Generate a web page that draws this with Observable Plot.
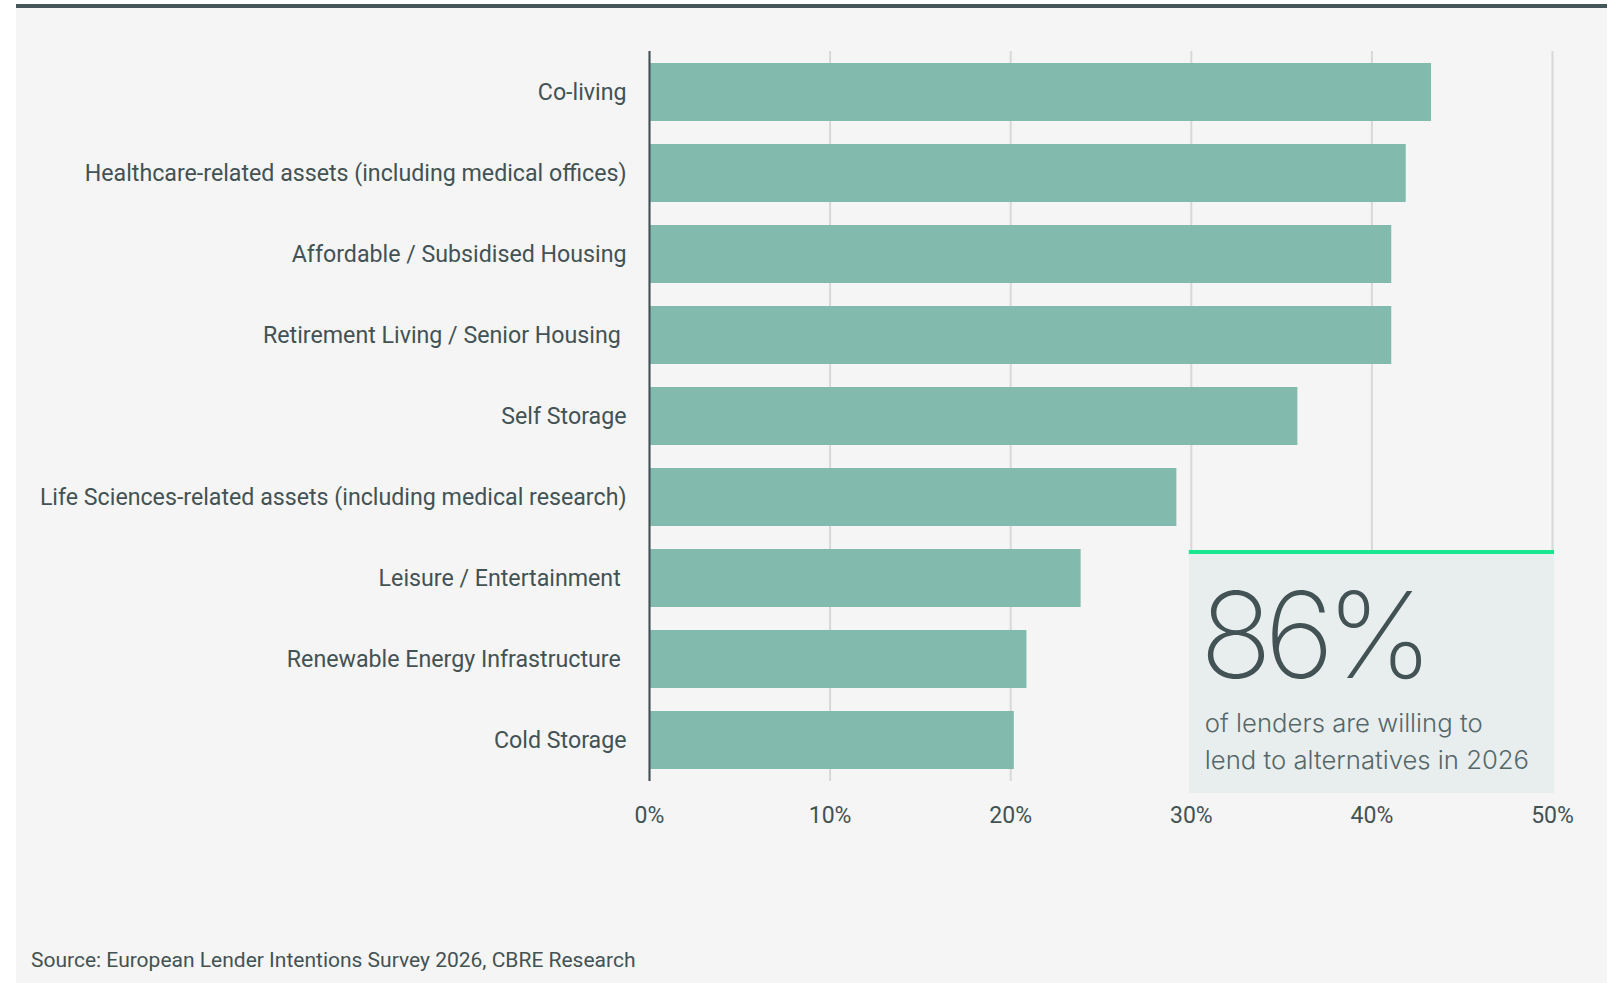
<!DOCTYPE html>
<html>
<head>
<meta charset="utf-8">
<script src="https://cdn.jsdelivr.net/npm/d3@7"></script>
<script src="https://cdn.jsdelivr.net/npm/@observablehq/plot@0.6"></script>
<style>
  html, body { margin: 0; padding: 0; background: #ffffff; }
  #page { position: relative; width: 1611px; height: 983px; overflow: hidden; background: #ffffff; }
  #panel { position: absolute; left: 16px; top: 4px; width: 1591px; height: 979px; background: #f5f5f5; border-top: 4px solid #44565a; box-sizing: border-box; }
  #chart { position: absolute; left: 0; top: 0; }
  #chart svg text { white-space: pre; }
  #source { position: absolute; left: 31px; top: 950px; font-family: Roboto, sans-serif; font-size: 21px; line-height: 21px; color: #435254; white-space: nowrap; }
</style>
</head>
<body>
<div id="page">
  <div id="panel"></div>
  <div id="chart"></div>
  <div id="source">Source: European Lender Intentions Survey 2026, CBRE Research</div>
</div>
<script>
const categories = [
  "Co-living",
  "Healthcare-related assets (including medical offices)",
  "Affordable / Subsidised Housing",
  "Retirement Living / Senior Housing ",
  "Self Storage",
  "Life Sciences-related assets (including medical research)",
  "Leisure / Entertainment ",
  "Renewable Energy Infrastructure ",
  "Cold Storage"
];
const shares = [43.3, 41.9, 41.1, 41.1, 35.9, 29.2, 23.9, 20.9, 20.2];
const xTicks = [0, 10, 20, 30, 40, 50];
const calloutValue = "86%";
const calloutLines = ["of lenders are willing to", "lend to alternatives in 2026"];

const rows = categories.map((c, i) => ({category: c, share: shares[i]}));

const chart = Plot.plot({
  width: 1611,
  height: 850,
  marginLeft: 649,
  marginRight: 59,
  marginTop: 51,
  marginBottom: 69,
  style: {fontFamily: "Roboto, sans-serif", fontSize: "23px", color: "#435254", background: "transparent", overflow: "visible"},
  x: {domain: [0, 50], axis: null},
  y: {domain: categories, paddingInner: 0.29, paddingOuter: 0.145, axis: null},
  marks: [
    Plot.gridX({ticks: xTicks, stroke: "#d8d8d8", strokeOpacity: 1, strokeWidth: 2}),
    Plot.barX(rows, {x: "share", y: "category", fill: "#82bbad"}),
    Plot.ruleX([0], {stroke: "#3f4f53", strokeWidth: 2}),
    Plot.axisX({ticks: xTicks, tickSize: 0, tickPadding: 25, tickFormat: d => d + "%", fontSize: 23, label: null, fill: "#435254"}),
    Plot.axisY({tickSize: 0, tickPadding: 23, fontSize: 23.2, label: null, fill: "#435254"})
  ]
});

document.getElementById("chart").appendChild(chart);

// Callout box drawn into the same SVG, positioned from the x scale
const xs = chart.scale("x");
const bx0 = xs.apply(30) - 2;
const bx1 = xs.apply(50) + 2;
const by0 = 550, by1 = 793;
const g = d3.select(chart).append("g").attr("text-anchor", "start");
g.append("rect").attr("x", bx0).attr("y", by0).attr("width", bx1 - bx0).attr("height", by1 - by0).attr("fill", "#e8eeee");
g.append("rect").attr("x", bx0).attr("y", by0).attr("width", bx1 - bx0).attr("height", 4).attr("fill", "#17e88f");
g.append("text").attr("x", bx0 + 11).attr("y", 678)
  .attr("font-family", "Inter, sans-serif").attr("font-weight", 200).attr("font-size", 120)
  .attr("letter-spacing", -8)
  .attr("fill", "#435254").text(calloutValue);
calloutLines.forEach((t, i) => {
  g.append("text").attr("x", bx0 + 16).attr("y", 732 + i * 37)
    .attr("font-family", "Inter, sans-serif").attr("font-weight", 300).attr("font-size", 25.7)
    .attr("fill", "#56676a").text(t);
});
</script>
</body>
</html>
